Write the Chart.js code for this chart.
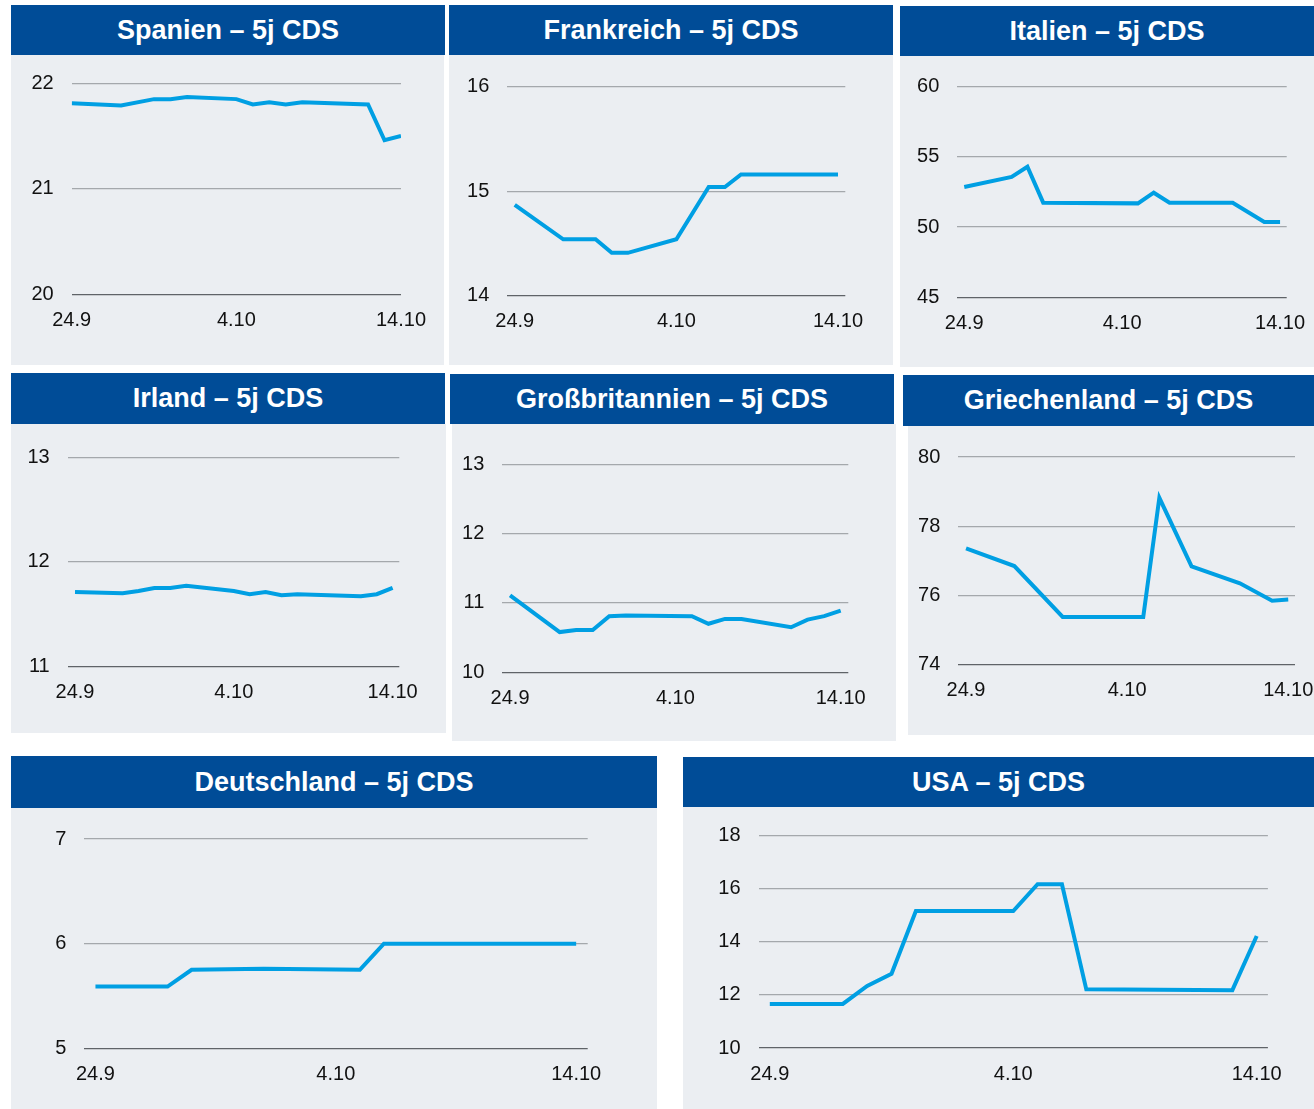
<!DOCTYPE html>
<html lang="de">
<head>
  <meta charset="UTF-8">
  <title>5j CDS</title>
  <script src="https://cdn.jsdelivr.net/npm/chart.js"></script>
  <style>
    body {
      margin: 0;
      background: #ffffff;
      font-family: 'Liberation Sans', Arial, sans-serif;
    }
    #page {
      position: relative;
      width: 1314px;
      height: 1109px;
    }
    .head {
      position: absolute;
      background: #004c97;
      color: #ffffff;
      font-weight: bold;
      font-size: 27px;
      display: flex;
      align-items: center;
      justify-content: center;
    }
    .box {
      position: absolute;
      background: #ebeef2;
    }
    canvas { display: block; }
  </style>
</head>
<body>
<div id="page"></div>

<script>
  // Kalendertage 24.9 - 14.10
  const days = ['24.9', '25.9', '26.9', '27.9', '28.9', '29.9', '30.9',
    '1.10', '2.10', '3.10', '4.10', '5.10', '6.10', '7.10', '8.10', '9.10',
    '10.10', '11.10', '12.10', '13.10', '14.10'];
  const tickLabels = ['24.9', '4.10', '14.10'];

  // CDS-Werte (bp), null = kein Knick sichtbar
  const spanien = [21.81, null, null, 21.79, null, 21.85, 21.85, 21.87, null, null, 21.85,
    21.80, 21.82, 21.80, 21.82, null, null, null, 21.80, 21.46, 21.50];
  const frankreich = [14.87, null, null, 14.54, null, 14.54, 14.41, 14.41, null, null, 14.54,
    null, 15.04, 15.04, 15.16, null, null, null, null, null, 15.16];
  const italien = [52.86, null, null, 53.57, 54.30, 51.74, null, null, null, null, null,
    51.69, 52.45, 51.74, null, null, null, 51.74, null, 50.36, 50.36];
  const irland = [11.71, null, null, 11.70, 11.72, 11.75, 11.75, 11.77, null, null, 11.72,
    11.69, 11.71, 11.68, 11.69, null, null, null, 11.67, 11.69, 11.75];
  const grossbritannien = [11.11, null, null, 10.58, 10.61, 10.61, 10.81, 10.82, null, null, null,
    10.81, 10.70, 10.77, 10.77, null, null, 10.65, 10.76, 10.81, 10.89];
  const griechenland = [77.36, null, null, 76.85, null, null, 75.38, null, null, null, null,
    75.38, 78.82, null, 76.84, null, null, 76.35, null, 75.85, 75.88];
  const deutschland = [5.59, null, null, 5.59, 5.75, null, null, 5.76, null, null, null,
    5.75, 6.00, null, null, null, null, null, null, null, 6.00];
  const usa = [11.66, null, null, 11.66, 12.34, 12.80, 15.16, null, null, null, 15.16,
    16.17, 16.17, 12.21, null, null, null, null, null, 12.18, 14.22];

  // Layout je Kachel: Kopf, Fläche, Gitter (Seitenkoordinaten)
  const panels = [
    { title: 'Spanien – 5j CDS', data: spanien, yMin: 20, yMax: 22, step: 1,
      head: [11, 5, 445, 55], box: [11, 55, 444, 365], grid: [71.7, 83.3, 401, 294.3], pad: [0, 0] },
    { title: 'Frankreich – 5j CDS', data: frankreich, yMin: 14, yMax: 16, step: 1,
      head: [449, 5, 893, 55], box: [449, 55, 893, 365], grid: [507.3, 86.7, 845.3, 295.7], pad: [0.46, 0.45] },
    { title: 'Italien – 5j CDS', data: italien, yMin: 45, yMax: 60, step: 5,
      head: [900, 6, 1314, 56], box: [900, 56, 1314, 367], grid: [957.3, 86.7, 1286.7, 297.3], pad: [0.44, 0.42] },
    { title: 'Irland – 5j CDS', data: irland, yMin: 11, yMax: 13, step: 1,
      head: [11, 373, 445, 424], box: [11, 424, 446, 733], grid: [67.7, 457.3, 399.3, 666.3], pad: [0.46, 0.42] },
    { title: 'Großbritannien – 5j CDS', data: grossbritannien, yMin: 10, yMax: 13, step: 1,
      head: [450, 374, 894, 424], box: [452, 424, 896, 741], grid: [502.3, 464.3, 848.3, 672.3], pad: [0.47, 0.46] },
    { title: 'Griechenland – 5j CDS', data: griechenland, yMin: 74, yMax: 80, step: 2,
      head: [903, 375, 1314, 426], box: [908, 426, 1314, 735], grid: [958.3, 457, 1295, 664.7], pad: [0.48, 0.42] },
    { title: 'Deutschland – 5j CDS', data: deutschland, yMin: 5, yMax: 7, step: 1,
      head: [11, 756, 657, 808], box: [11, 808, 657, 1109], grid: [84.4, 839, 587.7, 1048.3], pad: [0.46, 0.48] },
    { title: 'USA – 5j CDS', data: usa, yMin: 10, yMax: 18, step: 2,
      head: [683, 757, 1314, 807], box: [683, 807, 1314, 1109], grid: [758.6, 835.7, 1267.9, 1048], pad: [0.46, 0.46] }
  ];

  Chart.defaults.font.family = "'Liberation Sans', Arial, sans-serif";
  Chart.defaults.font.size = 20;
  Chart.defaults.color = '#111111';

  const page = document.getElementById('page');
  const tickIdx = tickLabels.map(t => days.indexOf(t));

  panels.forEach(p => {
    const head = document.createElement('div');
    head.className = 'head';
    head.style.left = p.head[0] + 'px';
    head.style.top = p.head[1] + 'px';
    head.style.width = (p.head[2] - p.head[0]) + 'px';
    head.style.height = (p.head[3] - p.head[1]) + 'px';
    head.textContent = p.title;
    page.appendChild(head);

    const box = document.createElement('div');
    box.className = 'box';
    const w = p.box[2] - p.box[0];
    const h = p.box[3] - p.box[1];
    box.style.left = p.box[0] + 'px';
    box.style.top = p.box[1] + 'px';
    box.style.width = w + 'px';
    box.style.height = h + 'px';
    const canvas = document.createElement('canvas');
    canvas.width = w;
    canvas.height = h;
    box.appendChild(canvas);
    page.appendChild(box);

    const yAxisW = p.grid[0] - p.box[0];
    const xAxisH = p.box[3] - p.grid[3];

    new Chart(canvas, {
      type: 'line',
      data: {
        datasets: [{
          data: p.data.map((v, i) => ({ x: i, y: v })),
          borderColor: '#009fe3',
          borderWidth: 4,
          pointRadius: 0,
          tension: 0,
          spanGaps: true
        }]
      },
      options: {
        responsive: false,
        animation: false,
        events: [],
        layout: {
          padding: { left: 0, top: p.grid[1] - p.box[1], right: p.box[2] - p.grid[2], bottom: 0 }
        },
        plugins: { legend: { display: false }, tooltip: { enabled: false } },
        scales: {
          x: {
            type: 'linear',
            min: -p.pad[0],
            max: days.length - 1 + p.pad[1],
            afterBuildTicks: s => { s.ticks = tickIdx.map(v => ({ value: v })); },
            afterFit: s => {
              s.height = xAxisH;
              s.paddingLeft = 0;
              s.paddingRight = 0;
            },
            ticks: { padding: 14, maxRotation: 0, autoSkip: false, callback: v => days[v] },
            grid: { display: false, drawTicks: false },
            border: { display: false }
          },
          y: {
            min: p.yMin,
            max: p.yMax,
            afterFit: s => {
              s.width = yAxisW;
              s.paddingTop = 0;
              s.paddingBottom = 0;
            },
            ticks: { stepSize: p.step, padding: 18 },
            grid: {
              drawTicks: false,
              lineWidth: 1.3,
              color: ctx => ctx.tick.value === p.yMin ? '#5f6368' : '#a4a8ac'
            },
            border: { display: false }
          }
        }
      }
    });
  });
</script>
</body>
</html>
